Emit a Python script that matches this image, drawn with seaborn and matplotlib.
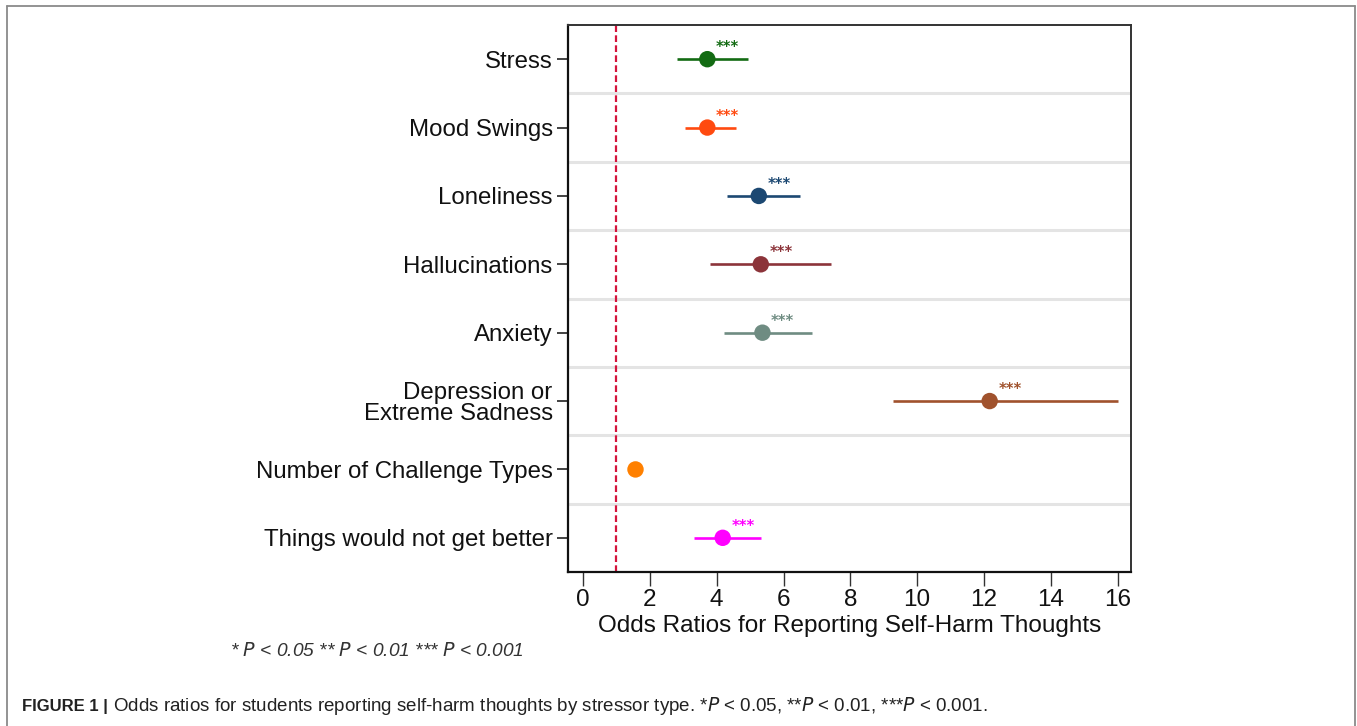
import matplotlib
matplotlib.use("Agg")
import matplotlib.pyplot as plt
import seaborn as sns
import pandas as pd
from matplotlib.lines import Line2D

# ---- data ----
labels = ["Stress", "Mood Swings", "Loneliness", "Hallucinations", "Anxiety",
          "Depression or\nExtreme Sadness", "Number of Challenge Types",
          "Things would not get better"]
odds = [3.72, 3.72, 5.26, 5.32, 5.37, 12.17, 1.57, 4.18]
ci_low = [2.82, 3.06, 4.30, 3.80, 4.22, 9.28, 1.50, 3.33]
ci_high = [4.95, 4.58, 6.49, 7.42, 6.85, 16.0, 1.64, 5.32]
stars = ["***", "***", "***", "***", "***", "***", "", "***"]
colors = ["#136b13", "#ff4a10", "#1c4872", "#8c343a", "#6f8c82", "#a0522d",
          "#ff8000", "#ff00ff"]
xticks = [0, 2, 4, 6, 8, 10, 12, 14, 16]

df = pd.DataFrame({"label": labels, "odds": odds, "lo": ci_low, "hi": ci_high})

sns.set_theme(style="white")
plt.rcParams["font.family"] = ["Liberation Sans", "DejaVu Sans"]

fig = plt.figure(figsize=(13.57, 7.26), dpi=100)
ax = fig.add_axes([568/1357, 1-572/726, (1131-568)/1357, (572-25)/726])

# CI lines
ax.hlines(y=df["label"], xmin=df["lo"], xmax=df["hi"], colors=colors, lw=1.9, zorder=3)
# points
sns.scatterplot(data=df, x="odds", y="label", hue="label", palette=colors,
                s=140, edgecolor="none", legend=False, ax=ax, zorder=4)

# significance stars
for lab, x, st, c in zip(labels, odds, stars, colors):
    if st:
        ax.annotate(st, (x, lab), xytext=(14.5, 5), textcoords="offset points",
                    ha="center", va="baseline", fontsize=10.5, color=c,
                    fontweight="bold", family="DejaVu Sans")

# reference line
ax.axvline(1, color="#d4143c", lw=1.6, ls=(0, (3, 1.5)), zorder=2)

# row separators
for i in range(len(labels) - 1):
    ax.axhline(i + 0.5, color="#e4e4e4", lw=2.2, zorder=1)

ax.set_ylim(len(labels) - 0.5, -0.5)
ax.set_xlim(-0.45, 16.4)
ax.set_xticks(xticks)
ax.set_xticklabels([str(t) for t in xticks])
ax.set_xlabel("Odds Ratios for Reporting Self-Harm Thoughts", fontsize=17.5, labelpad=3, color="#111")
ax.set_ylabel("")

ax.tick_params(axis="y", which="major", left=True, length=8, width=1.2, pad=3,
               labelsize=17.3, colors="#222", labelcolor="#111")
ax.tick_params(axis="x", which="major", bottom=True, length=10, width=1.0, pad=2,
               labelsize=17.5, colors="#333", labelcolor="#111")
for t in ax.get_yticklabels():
    t.set_linespacing(0.95)

for sp in ax.spines.values():
    sp.set_visible(True)
    sp.set_color("#333333")
    sp.set_linewidth(1.4)
ax.spines["left"].set_color("#111")
ax.spines["bottom"].set_color("#111")
ax.spines["left"].set_linewidth(1.6)
ax.spines["bottom"].set_linewidth(1.6)

# footnote and caption
fig.text(230/1357, 1-651/726, "* $P$ < 0.05 ** $P$ < 0.01 *** $P$ < 0.001",
         fontsize=13.8, color="#333", va="center", ha="left", style="italic")
fig.text(22/1357, 1-706/726, "FIGURE 1 |", fontsize=12, fontweight="bold",
         color="#222", va="center", ha="left")
fig.text(113/1357, 1-706/726,
         "Odds ratios for students reporting self-harm thoughts by stressor type. "
         "*$P$ < 0.05, **$P$ < 0.01, ***$P$ < 0.001.",
         fontsize=13.5, color="#222", va="center", ha="left")

# outer frame
fc = "#8a8a8a"
fig.add_artist(Line2D([7/1357, 7/1357], [0, 1-6/726], color=fc, lw=1.3, transform=fig.transFigure))
fig.add_artist(Line2D([1355/1357, 1355/1357], [0, 1-6/726], color=fc, lw=1.3, transform=fig.transFigure))
fig.add_artist(Line2D([7/1357, 1355/1357], [1-6/726, 1-6/726], color=fc, lw=1.3, transform=fig.transFigure))

fig.savefig("out.png", dpi=100)
